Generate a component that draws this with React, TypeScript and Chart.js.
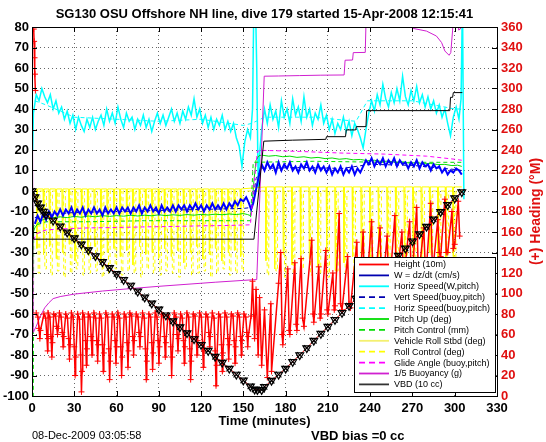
import { useEffect, useRef } from 'react';
import { Chart, registerables } from 'chart.js';

Chart.register(...registerables);

type P = [number, number];

const FONT = '"Liberation Sans", Arial, Helvetica, sans-serif';
const TITLE = 'SG130 OSU Offshore NH line, dive 179 started 15-Apr-2008 12:15:41';
const X_LABEL = 'Time (minutes)';
const Y2_LABEL = '(+) Heading (°M)';
const DATE_TEXT = '08-Dec-2009 03:05:58';
const BIAS_TEXT = 'VBD bias =0 cc';

const X_TICKS = [0, 30, 60, 90, 120, 150, 180, 210, 240, 270, 300, 330];
const Y_TICKS = [-100, -90, -80, -70, -60, -50, -40, -30, -20, -10, 0, 10, 20, 30, 40, 50, 60, 70, 80];
const Y2_TICKS = [0, 20, 40, 60, 80, 100, 120, 140, 160, 180, 200, 220, 240, 260, 280, 300, 320, 340, 360];

const LEGEND_LABELS = [
  'Height (10m)', 'W = dz/dt (cm/s)', 'Horiz Speed(W,pitch)', 'Vert Speed(buoy,pitch)',
  'Horiz Speed(buoy,pitch)', 'Pitch Up (deg)', 'Pitch Control (mm)', 'Vehicle Roll Stbd (deg)',
  'Roll Control (deg)', 'Glide Angle (buoy,pitch)', '1/5 Buoyancy (g)', 'VBD (10 cc)',
];

// Height / depth trace (left axis units)
const DEPTH: P[] = [
  [0, 0], [2, -3], [4, -6], [6, -8], [8, -10], [10, -11.5], [15, -14.4], [20, -17.3], [25, -20.2], [30, -23],
  [35, -26], [40, -28.8], [45, -31.7], [50, -34.6], [55, -37.5], [60, -40.4], [65, -43.3], [70, -46.1], [75, -49],
  [80, -51.9], [85, -54.8], [90, -57.7], [95, -60.6], [100, -63.5], [105, -66.4], [110, -69.3], [115, -72.2],
  [120, -75], [125, -77.9], [130, -80.8], [135, -83.7], [140, -86.6], [145, -89.5], [150, -92.4], [155, -95.3],
  [158, -96.8], [160, -97], [163, -97], [165, -95.5], [170, -92.5], [175, -89.5], [180, -86.6], [185, -83.3],
  [190, -80], [195, -76.6], [200, -73], [205, -69.6], [210, -66.2], [215, -62.8], [220, -59.4], [225, -56],
  [230, -52.5], [235, -49], [240, -45.5], [245, -42], [250, -38.5], [255, -35], [260, -31.5], [265, -28],
  [270, -24.5], [275, -21], [280, -17.4], [285, -13.8], [290, -10.2], [295, -6.8], [300, -3.5], [305, -0.5],
];

// Heading (deg, right axis); null marks a break in the trace
const HEADING: (P | null)[] = [
  [1.2, 358], [1.5, 346], [1.8, 330], [2.1, 314], [2.4, 298], null,
  [3, 81], [4.2, 77], [5, 66], [5.6, 56], [6, 64],
  [8.5, 80], [9.7, 76], [10.5, 60], [11.1, 44], [11.3, 56],
  [11.5, 81], [12.7, 77], [13.5, 58], [14.1, 38], [14.5, 52],
  [15.5, 80], [16.7, 78], [17.5, 68], [18.1, 60], [18.5, 66],
  [19.5, 81], [20.7, 77], [21.5, 62], [22.1, 48], [22.5, 58],
  [24, 80], [25.2, 76], [26, 56], [26.6, 36], [27, 50],
  [28, 81], [29.2, 77], [30, 48], [30.6, 20], [31, 38],
  [32.5, 80], [33.7, 75], [34.5, 40], [35.1, 4], [35.5, 24],
  [36, 81], [37.2, 77], [38, 54], [38.6, 30], [39, 46],
  [40, 80], [41.2, 77], [42, 58], [42.6, 40], [43, 54],
  [44, 81], [45.2, 76], [46, 54], [46.6, 34], [47, 50],
  [48, 80], [49.2, 76], [50, 50], [50.6, 24], [51, 42],
  [52.5, 81], [53.7, 77], [54.5, 46], [55.1, 16], [55.5, 34],
  [57, 80], [58.2, 77], [59, 54], [59.6, 32], [60, 48],
  [61, 81], [62.2, 76], [63, 48], [63.6, 20], [64, 38],
  [65.5, 80], [66.7, 77], [67.5, 52], [68.1, 28], [68.5, 44],
  [69.5, 81], [70.7, 78], [71.5, 58], [72.1, 40], [72.5, 54],
  [74, 80], [75.2, 77], [76, 62], [76.6, 48], [77, 58],
  [78.5, 81], [79.7, 76], [80.5, 46], [81.1, 16], [81.5, 34],
  [83, 80], [84.2, 77], [85, 52], [85.6, 26], [86, 42],
  [87.5, 81], [88.7, 77], [89.5, 54], [90.1, 32], [90.5, 48],
  [92, 80], [93.2, 78], [94, 58], [94.6, 38], [95, 52],
  [96.5, 79], [97.7, 75], [98.5, 48], [99.1, 20], [99.5, 38],
  [101, 81], [102.2, 77], [103, 60], [103.6, 44], [104, 56],
  [105.5, 80], [106.7, 76], [107.5, 54], [108.1, 32], [108.5, 48],
  [110, 81], [111.2, 77], [112, 46], [112.6, 16], [113, 34],
  [114.5, 80], [115.7, 78], [116.5, 58], [117.1, 40], [117.5, 54],
  [119, 81], [120.2, 77], [121, 52], [121.6, 28], [122, 44],
  [123.5, 80], [124.7, 77], [125.5, 62], [126.1, 48], [126.5, 58],
  [128, 81], [129.2, 76], [130, 44], [130.6, 10], [131, 30],
  [132.5, 80], [133.7, 77], [134.5, 50], [135.1, 24], [135.5, 42],
  [137, 81], [138.2, 77], [139, 56], [139.6, 36], [140, 50],
  [141.5, 80], [142.7, 78], [143.5, 54], [144.1, 32], [144.5, 48],
  [146, 81], [147.2, 77], [148, 58], [148.6, 40], [149, 54],
  [150.5, 80], [151.7, 77], [152.5, 62], [153.1, 48], [153.5, 58],
  [155.5, 78], [156.5, 112], [158, 56], [159, 104], [160.5, 40], [161.5, 96], [163, 30], [165, 84], [167, 18], [169.5, 90],
  [170, 24], [175, 110], [176.5, 140], [177.5, 60], [178, 50], [181.5, 124], [182.5, 64], [183, 60], [186.5, 130],
  [187.5, 70], [188, 64], [191, 134], [192, 76], [193, 68], [198.5, 152], [199.5, 80], [200, 72], [203.5, 126],
  [204.5, 76], [205, 80], [208.5, 142], [209.5, 84], [210, 80], [213.5, 120], [214.5, 84], [215, 88], [218, 178],
  [219, 90], [220, 84], [224, 136], [225, 90], [226, 86], [230.5, 150], [231.5, 96], [232, 90], [235, 160],
  [236, 100], [237, 100], [241, 170], [242, 110], [243, 104], [247, 164], [248, 110], [249, 108], [252, 156],
  [253, 112], [254, 110], [257.5, 176], [258.5, 116], [259, 114], [262.5, 160], [263.5, 120], [264, 116],
  [268, 170], [269, 124], [270, 120], [273, 184], [274, 128], [275, 124], [278, 164], [279, 130], [280, 126],
  [283, 188], [284, 132], [285, 130], [288, 172], [289, 140], [290, 136], [293, 192], [294, 140], [295, 140],
  [298, 180], [299, 144], [300, 148], [302.5, 190], [303.5, 156],
];

// W = dz/dt (cm/s)
const W_SPEED: P[] = [
  [2, -16], [4, -12], [6, -15], [8, -11], [10, -14], [12, -10], [14, -13], [16, -10], [18, -12], [20, -9],
  [22, -12], [24, -9], [26, -11], [28, -8], [30, -12], [32, -9], [34, -11], [36, -8], [38, -12], [40, -9],
  [42, -11], [44, -8], [46, -11], [48, -9], [50, -12], [52, -8], [54, -11], [56, -9], [58, -11], [60, -8],
  [62, -11], [64, -8], [66, -10], [68, -8], [70, -11], [72, -8], [74, -10], [76, -7], [78, -11], [80, -8],
  [82, -10], [84, -7], [86, -10], [88, -8], [90, -11], [92, -7], [94, -10], [96, -8], [98, -10], [100, -7],
  [102, -10], [104, -7], [106, -9], [108, -7], [110, -10], [112, -7], [114, -9], [116, -6], [118, -9], [120, -7],
  [122, -10], [124, -7], [126, -9], [128, -6], [130, -9], [132, -7], [134, -9], [136, -6], [138, -9], [140, -6],
  [142, -8], [144, -5], [146, -7], [148, -4], [150, -5], [152, -3], [154, -6], [155.5, -9], [157, -6], [158.5, -1],
  [160, 4], [161.5, 9],
  [163, 13], [165, 10], [167, 14], [169, 11], [171, 13], [173, 9], [175, 14], [177, 10], [179, 13], [181, 11],
  [183, 14], [185, 10], [187, 12], [189, 9], [191, 13], [193, 11], [195, 14], [197, 10], [199, 12], [201, 9],
  [203, 13], [205, 10], [207, 12], [209, 9], [211, 12], [213, 8], [215, 11], [217, 9], [219, 12], [221, 8],
  [223, 11], [225, 9], [227, 12], [229, 8], [231, 11], [233, 9], [235, 12], [237, 15], [239, 13], [241, 16],
  [243, 12], [245, 15], [247, 13], [249, 16], [251, 12], [253, 15], [255, 13], [257, 16], [259, 12], [261, 15],
  [263, 13], [265, 14], [267, 11], [269, 14], [271, 12], [273, 15], [275, 11], [277, 14], [279, 12], [281, 13],
  [283, 10], [285, 13], [287, 11], [289, 12], [291, 9], [293, 11], [295, 8], [297, 10], [299, 9], [301, 11],
  [303, 10], [305, 8],
];

// Horizontal speed (W, pitch)
const HORIZ_SPEED: P[] = [
  [0.5, 20], [1, 38], [3, 47], [5, 44], [7, 50], [9, 46], [11, 43], [13, 47], [15, 40], [17, 44], [19, 38],
  [21, 41], [23, 35], [25, 39], [27, 33], [29, 37], [31, 30], [33, 36], [35, 32], [37, 29], [39, 35],
  [41, 31], [43, 36], [45, 30], [47, 34], [49, 37], [51, 32], [53, 40], [55, 34], [57, 38], [59, 33],
  [61, 41], [63, 35], [65, 31], [67, 38], [69, 34], [71, 36], [73, 30], [75, 35], [77, 32], [79, 37],
  [81, 31], [83, 35], [85, 29], [87, 34], [89, 38], [91, 33], [93, 37], [95, 32], [97, 36], [99, 40],
  [101, 34], [103, 38], [105, 33], [107, 39], [109, 35], [111, 41], [113, 37], [115, 45], [117, 36], [119, 40],
  [121, 33], [123, 37], [125, 31], [127, 36], [129, 30], [131, 35], [133, 32], [135, 37], [137, 30], [139, 34],
  [141, 29], [143, 33], [145, 26], [147, 22], [149, 12], [151, 24], [153, 30], [155, 26], [156.5, 40],
  [157.5, 95], [158.5, 95], [159.5, 60], [160.5, 2], [161.5, 18],
  [163, 30], [165, 40], [167, 33], [169, 42], [171, 35], [173, 39], [175, 31], [177, 44], [179, 36], [181, 40],
  [183, 33], [185, 45], [187, 37], [189, 41], [191, 34], [193, 46], [195, 36], [197, 40], [199, 32], [201, 38],
  [203, 35], [205, 42], [207, 33], [209, 37], [211, 30], [213, 35], [215, 28], [217, 33], [219, 30], [221, 36],
  [223, 29], [225, 34], [227, 27], [229, 33], [231, 30], [233, 26], [235, 21], [237, 30], [239, 38], [241, 44],
  [243, 39], [245, 47], [247, 42], [249, 52], [251, 45], [253, 41], [255, 48], [257, 43], [259, 50], [261, 44],
  [263, 56], [265, 46], [267, 42], [269, 49], [271, 44], [273, 51], [275, 43], [277, 47], [279, 41], [281, 46],
  [283, 40], [285, 44], [287, 38], [289, 42], [291, 36], [293, 40], [295, 33], [297, 27], [299, 36], [301, 41],
  [303, 35], [304.5, 45], [305.5, 95], [306.5, -4],
];

const VERT_SPEED_BUOY: P[] = [
  [2, -13], [10, -11.5], [30, -10.5], [60, -10], [90, -9.5], [120, -9], [150, -8.5], [156, -8], [159, 6],
  [163, 11], [190, 11.5], [220, 11], [240, 13], [270, 12.5], [300, 10.5], [305, 10],
];

const HORIZ_SPEED_BUOY: P[] = [
  [2, 44], [10, 42], [30, 36], [60, 35], [90, 34], [120, 35], [150, 32], [156, 33], [159, 34],
  [165, 36], [200, 36], [230, 34], [238, 44], [270, 44], [300, 40], [305, 40],
];

const PITCH: P[] = [
  [0.6, -40], [1, -20], [2, -18], [4, -16], [6, -14.5], [8, -14], [10, -13.5], [15, -13], [20, -12.6], [25, -13],
  [30, -12.4], [35, -12.8], [40, -12.2], [45, -12.6], [50, -12], [55, -12.4], [60, -12], [65, -12.3], [70, -11.8],
  [75, -12.2], [80, -11.8], [85, -12.1], [90, -11.6], [95, -12], [100, -11.6], [105, -11.9], [110, -11.5],
  [115, -11.8], [120, -11.4], [125, -11.7], [130, -11.3], [135, -11.6], [140, -11.2], [145, -11.5], [150, -11],
  [153, -11.5], [155, -12], [156, -8], [157.5, 5], [159, 15], [161, 17.2],
  [163, 17.5], [168, 17], [173, 17.3], [178, 16.7], [183, 17], [188, 16.4], [193, 16.7], [198, 16.1], [203, 16.4],
  [208, 15.8], [213, 16.1], [218, 15.5], [223, 15.8], [228, 15.2], [233, 15.4], [238, 14.8], [243, 15],
  [248, 14.4], [253, 14.6], [258, 14], [263, 14.2], [268, 13.6], [273, 13.8], [278, 13.3], [283, 13.4],
  [288, 12.9], [293, 13], [298, 12.4], [302, 12.6], [305, 12],
];

const PITCH_CONTROL: P[] = [
  [0.3, -100], [0.9, -100], [1.2, -17], [10, -15], [40, -15], [80, -14.5], [120, -14.5], [155, -14.5],
  [157, 14], [200, 14.5], [250, 14], [305, 14],
];

const GLIDE_ANGLE: P[] = [
  [1, -24], [3, -21], [6, -20], [10, -19], [20, -18.5], [40, -18], [60, -17.8], [80, -17.5], [100, -17.3],
  [120, -17], [140, -16.8], [155, -16.5], [157, 0], [160, 19.5], [165, 19.8], [190, 19.3], [220, 18.5],
  [250, 18], [280, 17], [300, 15.5], [305, 15],
];

const BUOYANCY: P[] = [
  [0, 95], [0.6, 95], [0.9, -69], [3, -66], [6, -61], [9, -57], [12, -54.5], [15, -52.5], [20, -51.5],
  [30, -50.3], [50, -48.8], [70, -47.6], [90, -46.5], [110, -45.5], [130, -44.5], [150, -43.6], [159.5, -43.2],
  [164.8, 56], [175, 56.1], [190, 56.3], [205, 56.5], [221.5, 56.6], [222.2, 63.8], [227.5, 63.9], [228, 67.5],
  [236.5, 67.6], [237.5, 95], [263, 95], [270.6, 79.3], [280, 78], [287, 75.6], [290.7, 72.4], [293, 68.3],
  [296, 66.2], [297.2, 67.5], [298.5, 78.5], [299.4, 95], [302, 95], [302.8, 78.5], [304, 79], [304.5, 95],
];

const VBD: P[] = [
  [0.4, -2], [1, -23.5], [157.5, -23.5], [164.5, 24.3], [185, 24.8], [208.5, 25.2], [209, 26.5], [222.5, 26.5],
  [223, 29.8], [229.7, 29.8], [230.2, 31.4], [237, 31.4], [237.5, 39.2], [296.5, 39.2], [297, 45.7],
  [298.5, 45.7], [299, 48], [305.4, 48],
];

// Roll: dips below the resting level
const ROLL_LEVEL_DIVE = 1;
const ROLL_LEVEL_CLIMB = 2;
const ROLL_DIP_T = [
  3.5, 8.2, 12.4, 17.1, 21.6, 26.3, 30.5, 35.2, 39.6, 44.3, 48.9, 53.4, 58.1, 62.5, 67.2, 71.6, 76.3, 80.7,
  85.2, 89.8, 94.1, 98.7, 103.2, 107.6, 112.3, 116.7, 121.2, 125.8, 130.1, 134.7, 139.2, 143.6, 148.1,
  166, 172.2, 178.3, 184.5, 190.6, 196.8, 202.9, 209.1, 215.2, 221.4, 227.5, 233.7, 239.8, 245.9, 252.1,
  258.2, 264.3, 270.4, 276.4, 282.3, 288.1, 293.6, 298.8,
];
const ROLL_DIP_V = [
  -28, -31, -27, -33, -30, -26, -34, -29, -31, -27, -35, -30, -28, -32, -29, -36, -27, -31, -30, -33,
  -28, -32, -29, -35, -30, -27, -33, -31, -28, -34, -30, -29, -32,
  -34, -38, -31, -36, -40, -33, -37, -30, -39, -35, -32, -38, -34, -36, -31, -39, -35, -33, -37, -30,
  -36, -34, -32,
];
const ROLL_CTRL_V = [
  -40, -38, -41, -39, -42, -40, -38, -41, -40, -39, -42, -40, -38, -41, -39, -40, -42, -38, -40, -41,
  -39, -40, -42, -38, -41, -40, -39, -42, -40, -38, -41, -40, -39,
  -41, -39, -42, -40, -38, -41, -40, -42, -39, -40, -41, -38, -40, -42, -39, -41, -40, -38, -42, -40,
  -39, -41, -40,
];

const C = {
  red: '#ff0000', axisRed: '#e01010', blue: '#0000ff', navy: '#0000b0', cyan: '#00ffff', green: '#00dd00',
  yellow: '#ffff00', magenta: '#ff00ff', purple: '#d020d0', black: '#000000',
};

const LEGEND_STYLE = [
  { color: C.red, dash: [] as number[] }, { color: C.navy, dash: [] }, { color: C.cyan, dash: [] },
  { color: C.navy, dash: [6, 4] }, { color: C.cyan, dash: [6, 4] }, { color: C.green, dash: [] },
  { color: C.green, dash: [6, 4] }, { color: '#f4f070', dash: [] }, { color: C.yellow, dash: [6, 4] },
  { color: C.magenta, dash: [6, 4] }, { color: C.purple, dash: [] }, { color: '#333333', dash: [] },
];

const xy = (a: (P | null)[]) => a.map((p) => (p ? { x: p[0], y: p[1] } : { x: NaN, y: null }));

function line(label: string, data: (P | null)[], color: string, opts: any = {}) {
  return {
    label, data: xy(data), showLine: true, borderColor: color, backgroundColor: color,
    borderWidth: 1, pointRadius: 0, tension: 0, spanGaps: false, yAxisID: 'y', ...opts,
  };
}

const decor = {
  id: 'decor',
  afterDraw(chart: any) {
    const { ctx, chartArea: a, scales } = chart;
    ctx.save();
    ctx.strokeStyle = '#000';
    ctx.lineWidth = 1;
    ctx.setLineDash([]);
    ctx.strokeRect(a.left + 0.5, a.top + 0.5, a.right - a.left, a.bottom - a.top);
    ctx.beginPath();
    X_TICKS.forEach((v) => {
      const px = Math.round(scales.x.getPixelForValue(v)) + 0.5;
      ctx.moveTo(px, a.bottom); ctx.lineTo(px, a.bottom - 5);
      ctx.moveTo(px, a.top); ctx.lineTo(px, a.top + 5);
    });
    Y_TICKS.forEach((v) => {
      const py = Math.round(scales.y.getPixelForValue(v)) + 0.5;
      ctx.moveTo(a.left, py); ctx.lineTo(a.left + 5, py);
      ctx.moveTo(a.right, py); ctx.lineTo(a.right - 5, py);
    });
    ctx.stroke();

    const cx = (a.left + a.right) / 2;
    ctx.fillStyle = '#000';
    ctx.textBaseline = 'middle';
    ctx.textAlign = 'center';
    ctx.font = `bold 13px ${FONT}`;
    ctx.fillText(TITLE, cx, 14);
    ctx.fillText(X_LABEL, cx, 421);
    ctx.textAlign = 'left';
    ctx.fillText(BIAS_TEXT, 311, 436);
    ctx.font = `11px ${FONT}`;
    ctx.fillText(DATE_TEXT, 32, 436);

    ctx.save();
    ctx.translate(536, (a.top + a.bottom) / 2);
    ctx.rotate(-Math.PI / 2);
    ctx.textAlign = 'center';
    ctx.fillStyle = C.axisRed;
    ctx.font = `bold 14px ${FONT}`;
    ctx.fillText(Y2_LABEL, 0, 0);
    ctx.restore();

    // legend
    const lx = 354, ly = 257, lw = 141, lh = 135;
    ctx.fillStyle = '#fff';
    ctx.fillRect(lx, ly, lw, lh);
    ctx.strokeStyle = '#000';
    ctx.lineWidth = 1;
    ctx.strokeRect(lx + 0.5, ly + 0.5, lw, lh);
    ctx.font = `9px ${FONT}`;
    ctx.textAlign = 'left';
    LEGEND_LABELS.forEach((lab, i) => {
      const y = ly + 7.5 + i * 10.9;
      const st = LEGEND_STYLE[i];
      ctx.strokeStyle = st.color;
      ctx.lineWidth = 1.8;
      ctx.setLineDash(st.dash);
      ctx.beginPath();
      ctx.moveTo(lx + 5, y); ctx.lineTo(lx + 35, y);
      ctx.stroke();
      ctx.setLineDash([]);
      ctx.fillStyle = '#000';
      ctx.fillText(lab, lx + 40, y + 0.5);
    });
    ctx.restore();
  },
};

export default function App() {
  const ref = useRef<HTMLCanvasElement>(null);
  useEffect(() => {
    document.body.style.margin = '0';
    Chart.defaults.font.family = FONT;

    const rollPts: P[] = [[2, ROLL_LEVEL_DIVE]];
    ROLL_DIP_T.forEach((t, i) => {
      const lvl = t < 157 ? ROLL_LEVEL_DIVE : ROLL_LEVEL_CLIMB;
      rollPts.push([t - 0.35, lvl], [t, ROLL_DIP_V[i]], [t + 0.35, lvl]);
    });
    rollPts.push([305, ROLL_LEVEL_CLIMB]);

    const ctrlPts: P[] = [[2, 0]];
    ROLL_DIP_T.forEach((t, i) => {
      ctrlPts.push([t + 0.8, 0], [t + 0.9, ROLL_CTRL_V[i]], [t + 2.0, ROLL_CTRL_V[i]], [t + 2.1, 0]);
    });
    ctrlPts.push([305, 0]);

    const tickFont = { family: FONT, size: 13, weight: 'bold' as const };
    const datasets: any[] = [
      line('markersX', DEPTH, C.black, { showLine: false, pointRadius: 4, pointStyle: 'crossRot', pointBorderColor: '#000', pointBorderWidth: 1.2 }),
      line('markersT', DEPTH, C.black, { showLine: false, pointRadius: 4.5, pointStyle: 'triangle', pointRotation: 180, pointBorderColor: '#000', pointBackgroundColor: 'rgba(0,0,0,0)', pointBorderWidth: 1.2 }),
      line('Height (10m)', DEPTH, C.red, {}),
      line('Heading', HEADING, C.red, { yAxisID: 'y2', pointRadius: 3, pointStyle: 'cross', pointBorderColor: C.red, pointBorderWidth: 1, borderWidth: 1.5 }),
      line('VBD', VBD, C.black, {}),
      line('Buoyancy', BUOYANCY, C.purple, {}),
      line('Glide', GLIDE_ANGLE, C.magenta, { borderDash: [4, 3] }),
      line('W', W_SPEED, C.blue, { borderWidth: 2 }),
      line('VertBuoy', VERT_SPEED_BUOY, C.navy, { borderDash: [4, 3] }),
      line('Pitch', PITCH, C.green, {}),
      line('PitchCtrl', PITCH_CONTROL, C.green, { borderDash: [4, 3] }),
      line('Roll', rollPts, C.yellow, {}),
      line('RollCtrl', ctrlPts, C.yellow, { borderDash: [4, 3] }),
      line('HorizBuoy', HORIZ_SPEED_BUOY, C.cyan, { borderDash: [4, 3] }),
      line('Horiz', HORIZ_SPEED, C.cyan, { borderWidth: 1.5 }),
    ];

    const chart = new Chart(ref.current as HTMLCanvasElement, {
      type: 'scatter',
      data: { datasets },
      options: {
        animation: false,
        responsive: false,
        maintainAspectRatio: false,
        devicePixelRatio: 1,
        layout: { padding: { top: 27, left: 0, right: 0, bottom: 0 } },
        plugins: { legend: { display: false }, title: { display: false }, tooltip: { enabled: false } },
        scales: {
          x: {
            type: 'linear', min: 0, max: 330,
            afterBuildTicks: (s: any) => { s.ticks = X_TICKS.map((v) => ({ value: v })); },
            afterFit: (s: any) => { s.height = 46; },
            grid: { color: 'rgba(0,0,0,0.6)', lineWidth: 1, drawTicks: false },
            border: { display: false, dash: [1, 3] },
            ticks: { font: tickFont, color: '#000', padding: 5, maxRotation: 0, autoSkip: false },
          },
          y: {
            type: 'linear', position: 'left', min: -100, max: 80,
            afterBuildTicks: (s: any) => { s.ticks = Y_TICKS.map((v) => ({ value: v })); },
            afterFit: (s: any) => { s.width = 32; },
            grid: { color: 'rgba(0,0,0,0.6)', lineWidth: 1, drawTicks: false },
            border: { display: false, dash: [1, 3] },
            ticks: { font: tickFont, color: '#000', padding: 3, autoSkip: false },
          },
          y2: {
            type: 'linear', position: 'right', min: 0, max: 360,
            afterBuildTicks: (s: any) => { s.ticks = Y2_TICKS.map((v) => ({ value: v })); },
            afterFit: (s: any) => { s.width = 49; },
            grid: { display: false, drawTicks: false },
            border: { display: false },
            ticks: { font: tickFont, color: C.axisRed, padding: 4, autoSkip: false },
          },
        },
      },
      plugins: [decor],
    } as any);
    return () => chart.destroy();
  }, []);
  return <canvas ref={ref} width={546} height={442} style={{ display: 'block', width: 546, height: 442 }} />;
}
